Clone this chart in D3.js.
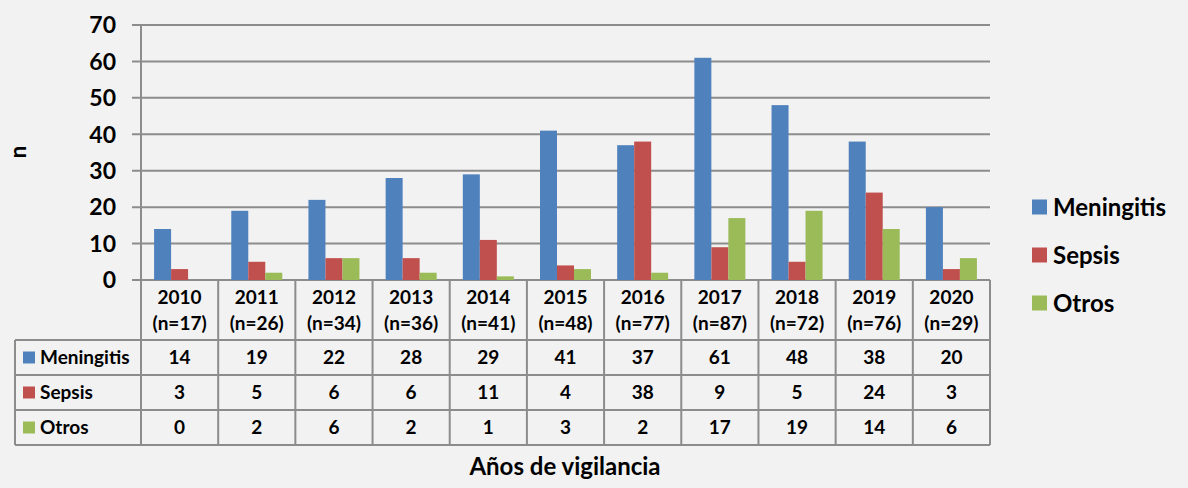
<!DOCTYPE html>
<html><head><meta charset="utf-8">
<script src="https://cdn.jsdelivr.net/npm/d3@7"></script>
<style>
html,body{margin:0;padding:0;background:#f2f2f2;}
svg{display:block;}
text{font-family:Lato,"Open Sans",sans-serif;font-weight:bold;fill:#000;}
</style></head><body>
<script>
const years = ["2010","2011","2012","2013","2014","2015","2016","2017","2018","2019","2020"];
const totals = ["n=17","n=26","n=34","n=36","n=41","n=48","n=77","n=87","n=72","n=76","n=29"];
const seriesNames = ["Meningitis","Sepsis","Otros"];
const meningitis = [14,19,22,28,29,41,37,61,48,38,20];
const sepsis = [3,5,6,6,11,4,38,9,5,24,3];
const otros = [0,2,6,2,1,3,2,17,19,14,6];
const colors = ["#4f81bd","#c0504d","#9bbb59"];
const yTicks = [0,10,20,30,40,50,60,70];

(function(){
const seriesData = [meningitis, sepsis, otros];
const W = 1188, H = 488;
const svg = d3.select("body").append("svg").attr("width", W).attr("height", H);

const pLeft = 141, pRight = 990, pTop = 25, pBase = 280;
const x0 = d3.scaleBand().domain(years).range([pLeft, pRight]).padding(0);
const x1 = d3.scaleBand().domain(seriesNames).range([0, x0.bandwidth()]).paddingInner(0).paddingOuter(0.77);
const y = d3.scaleLinear().domain([0, 70]).range([pBase, pTop]);
const gridColor = "#8c8c8c";

svg.append("g").selectAll("line").data(yTicks).join("line")
  .attr("x1", pLeft - 9).attr("x2", pRight)
  .attr("y1", d => y(d)).attr("y2", d => y(d))
  .attr("stroke", gridColor).attr("stroke-width", 2);

svg.append("line").attr("x1", pLeft).attr("x2", pLeft).attr("y1", pTop).attr("y2", pBase)
  .attr("stroke", gridColor).attr("stroke-width", 2);

svg.append("g").selectAll("text").data(yTicks).join("text")
  .attr("x", pLeft - 25).attr("y", d => y(d)).attr("dy", "0.36em")
  .attr("text-anchor", "end").attr("font-size", 23).text(d => d);

svg.append("text").attr("transform", "translate(26,152) rotate(-90)")
  .attr("text-anchor", "middle").attr("font-size", 22).text("n");

const groups = svg.append("g").selectAll("g").data(years).join("g")
  .attr("transform", d => `translate(${x0(d)},0)`);
groups.selectAll("rect").data((d, i) => seriesNames.map((s, k) => ({s, v: seriesData[k][i], k})))
  .join("rect")
  .attr("x", d => x1(d.s)).attr("width", x1.bandwidth())
  .attr("y", d => y(d.v)).attr("height", d => pBase - y(d.v))
  .attr("fill", d => colors[d.k]);

const tableLeft = 15;
const rowEdges = [280, 340, 375, 410, 445];
const tg = svg.append("g");
years.forEach((yr) => {
  tg.append("line").attr("x1", x0(yr)).attr("x2", x0(yr)).attr("y1", rowEdges[0]).attr("y2", rowEdges[4])
    .attr("stroke", gridColor).attr("stroke-width", 2);
});
tg.append("line").attr("x1", pRight).attr("x2", pRight).attr("y1", rowEdges[0]).attr("y2", rowEdges[4])
  .attr("stroke", gridColor).attr("stroke-width", 2);
tg.append("line").attr("x1", tableLeft).attr("x2", tableLeft).attr("y1", rowEdges[1]).attr("y2", rowEdges[4])
  .attr("stroke", gridColor).attr("stroke-width", 2);
rowEdges.slice(1).forEach(r => {
  tg.append("line").attr("x1", tableLeft).attr("x2", pRight).attr("y1", r).attr("y2", r)
    .attr("stroke", gridColor).attr("stroke-width", 2);
});
years.forEach((yr, i) => {
  const cx = x0(yr) + x0.bandwidth() / 2;
  tg.append("text").attr("x", cx).attr("y", 297).attr("dy", "0.36em").attr("text-anchor", "middle")
    .attr("font-size", 19).text(yr);
  tg.append("text").attr("x", cx).attr("y", 323).attr("dy", "0.36em").attr("text-anchor", "middle")
    .attr("font-size", 19).text("(" + totals[i] + ")");
});
seriesNames.forEach((s, k) => {
  const cy = (rowEdges[k + 1] + rowEdges[k + 2]) / 2;
  tg.append("rect").attr("x", 23).attr("y", cy - 6).attr("width", 12).attr("height", 12).attr("fill", colors[k]);
  tg.append("text").attr("x", 40).attr("y", cy).attr("dy", "0.36em").attr("font-size", 19).text(s);
  years.forEach((yr, i) => {
    tg.append("text").attr("x", x0(yr) + x0.bandwidth() / 2).attr("y", cy).attr("dy", "0.36em")
      .attr("text-anchor", "middle").attr("font-size", 19).text(seriesData[k][i]);
  });
});

svg.append("text").attr("x", 565).attr("y", 466).attr("dy", "0.36em").attr("text-anchor", "middle")
  .attr("font-size", 24).text("Años de vigilancia");

const lg = svg.append("g");
seriesNames.forEach((s, k) => {
  const cy = 207 + k * 48;
  lg.append("rect").attr("x", 1032).attr("y", cy - 7.5).attr("width", 15).attr("height", 15).attr("fill", colors[k]);
  lg.append("text").attr("x", 1053).attr("y", cy).attr("dy", "0.36em").attr("font-size", 24).text(s);
});
})();
</script>
</body></html>
